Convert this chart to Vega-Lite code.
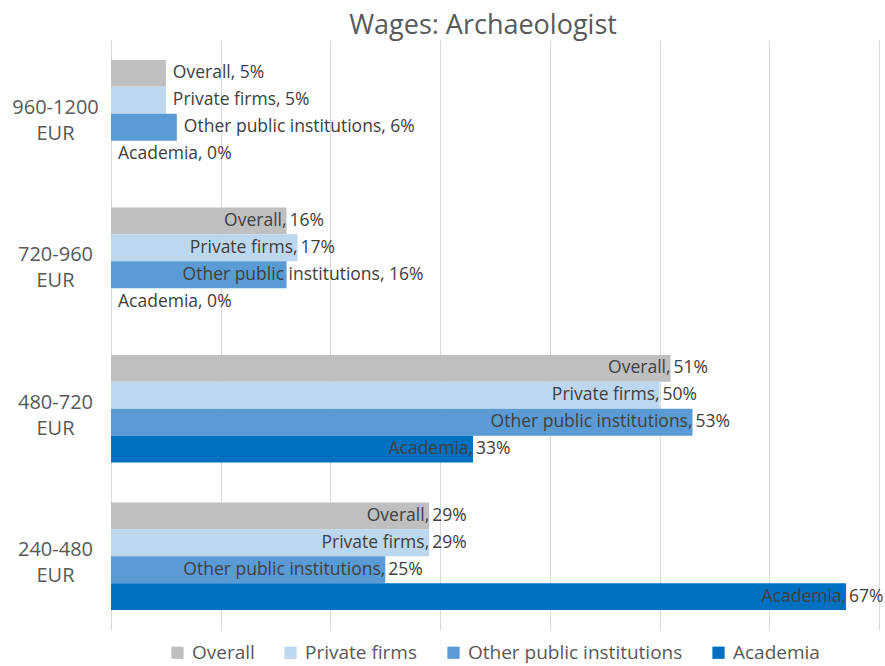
{
  "$schema": "https://vega.github.io/schema/vega-lite/v6.json",
  "autosize": {"type": "none"},
  "padding": {"left": 111, "top": 40, "right": 6, "bottom": 36},
  "width": 768,
  "height": 590,
  "background": "white",
  "title": {"text": "Wages: Archaeologist", "fontSize": 27, "font": "Open Sans", "fontWeight": "normal", "color": "#595959", "anchor": "middle", "offset": 0, "dx": -12},
  "config": {"view": {"stroke": null}, "font": "Open Sans"},
  "data": {"values": [
    {"wage": "960-1200 EUR", "series": "Overall", "value": 5},
    {"wage": "960-1200 EUR", "series": "Private firms", "value": 5},
    {"wage": "960-1200 EUR", "series": "Other public institutions", "value": 6},
    {"wage": "960-1200 EUR", "series": "Academia", "value": 0},
    {"wage": "720-960 EUR", "series": "Overall", "value": 16},
    {"wage": "720-960 EUR", "series": "Private firms", "value": 17},
    {"wage": "720-960 EUR", "series": "Other public institutions", "value": 16},
    {"wage": "720-960 EUR", "series": "Academia", "value": 0},
    {"wage": "480-720 EUR", "series": "Overall", "value": 51},
    {"wage": "480-720 EUR", "series": "Private firms", "value": 50},
    {"wage": "480-720 EUR", "series": "Other public institutions", "value": 53},
    {"wage": "480-720 EUR", "series": "Academia", "value": 33},
    {"wage": "240-480 EUR", "series": "Overall", "value": 29},
    {"wage": "240-480 EUR", "series": "Private firms", "value": 29},
    {"wage": "240-480 EUR", "series": "Other public institutions", "value": 25},
    {"wage": "240-480 EUR", "series": "Academia", "value": 67}
  ]},
  "transform": [
    {"calculate": "datum.series + ','", "as": "namec"},
    {"calculate": "datum.value + '%'", "as": "pct"},
    {"calculate": "datum.series + ', ' + datum.value + '%'", "as": "full"},
    {"calculate": "datum.value < 10 ? 'small' : (datum.value < 20 && datum.series == 'Other public institutions' ? 'tight' : 'big')", "as": "lab"}
  ],
  "encoding": {
    "y": {"field": "wage", "type": "nominal", "sort": ["960-1200 EUR", "720-960 EUR", "480-720 EUR", "240-480 EUR"],
      "scale": {"paddingInner": 0.27, "paddingOuter": 0.135},
      "axis": {"title": null, "ticks": false, "domain": false, "labelAlign": "center", "labelPadding": 56, "labelFontSize": 20, "labelColor": "#595959", "labelFont": "Open Sans", "labelExpr": "split(datum.label, ' ')", "labelLineHeight": 26, "labelOffset": -6}},
    "yOffset": {"field": "series", "type": "nominal", "sort": ["Overall", "Private firms", "Other public institutions", "Academia"], "scale": {"paddingInner": 0, "paddingOuter": 0}},
    "x": {"field": "value", "type": "quantitative", "scale": {"domain": [0, 70]},
      "axis": {"title": null, "labels": false, "ticks": false, "domain": false, "values": [0, 10, 20, 30, 40, 50, 60, 70], "gridColor": "#D9D9D9", "gridWidth": 1}}
  },
  "layer": [
    {"mark": {"type": "bar"},
     "encoding": {"color": {"field": "series", "type": "nominal", "sort": ["Overall", "Private firms", "Other public institutions", "Academia"],
       "scale": {"domain": ["Overall", "Private firms", "Other public institutions", "Academia"], "range": ["#BFBFBF", "#BDD7EE", "#5B9BD5", "#0070C0"]},
       "legend": {"title": null, "orient": "none", "legendX": 57, "legendY": 603, "direction": "horizontal", "symbolType": "square", "symbolSize": 150, "symbolStrokeWidth": 0, "labelFontSize": 19, "labelColor": "#595959", "labelFont": "Open Sans", "labelLimit": 0, "labelOffset": 5, "columnPadding": 26}}}},
    {"transform": [{"filter": "datum.lab == 'big'"}],
     "mark": {"type": "text", "align": "right", "baseline": "middle", "dx": 0, "fontSize": 17.5, "color": "#404040"},
     "encoding": {"text": {"field": "namec"}}},
    {"transform": [{"filter": "datum.lab == 'big'"}],
     "mark": {"type": "text", "align": "left", "baseline": "middle", "dx": 3, "fontSize": 17.5, "color": "#404040"},
     "encoding": {"text": {"field": "pct"}}},
    {"transform": [{"filter": "datum.lab == 'small'"}],
     "mark": {"type": "text", "align": "left", "baseline": "middle", "dx": 7, "fontSize": 17.5, "color": "#404040"},
     "encoding": {"text": {"field": "full"}}},
    {"transform": [{"filter": "datum.lab == 'tight'"}],
     "mark": {"type": "text", "align": "left", "baseline": "middle", "dx": -104, "fontSize": 17.5, "color": "#404040"},
     "encoding": {"text": {"field": "full"}}}
  ]
}
